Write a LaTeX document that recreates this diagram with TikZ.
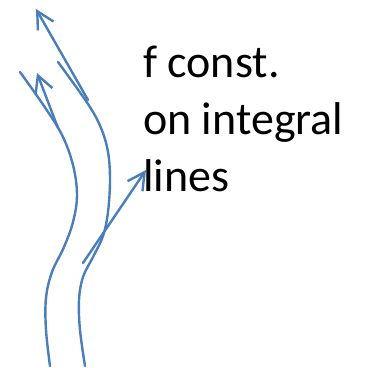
\documentclass[tikz,border=0pt]{standalone}
\usepackage{fontspec}
\setmainfont{Carlito}
\usetikzlibrary{arrows.meta}
\definecolor{flowBlue}{HTML}{4A7EBB}

\begin{document}
\begin{tikzpicture}[
    x=1pt, y=-1pt,
    flowline/.style={draw=flowBlue, line width=2.4pt, line cap=round, line join=round},
    flowarrow/.style={flowline, -{Straight Barb[length=17pt, width=18pt]}},
    lbl/.style={anchor=base west, inner sep=0pt, font=\fontsize{46}{56}\selectfont},
  ]
    \useasboundingbox (0,0) rectangle (371,367);

    % two integral lines
    \draw[flowline] plot[smooth, tension=0.6] coordinates {(50,366) (46,330) (46,298) (52,272)
      (64,247) (73,222) (77,195) (73,165) (62,135) (44,106) (20,72)};
    \draw[flowline] plot[smooth, tension=0.6] coordinates {(85,366) (80,330) (79,300) (83,277)
      (93,257) (103,236) (108,212) (110,180) (108,152) (101,128) (88,104) (58,62)};

    % tangent arrows
    \coordinate (a1) at (58,128);
    \coordinate (a1tip) at (37,73);
    \coordinate (a2) at (88,100);
    \coordinate (a2tip) at (36,9);
    \coordinate (a3) at (83,263);
    \coordinate (a3tip) at (146,170);
    \draw[flowarrow] (a1) -- (a1tip);
    \draw[flowarrow] (a2) -- (a2tip);
    \draw[flowarrow] (a3) -- (a3tip);

    \node[lbl] (fconst) at (143,77) {f const.};
    \node[lbl] (onint) at (143,134) {on integral};
    \node[lbl] (lines) at (143,191) {lines};
  \end{tikzpicture}
\end{document}
